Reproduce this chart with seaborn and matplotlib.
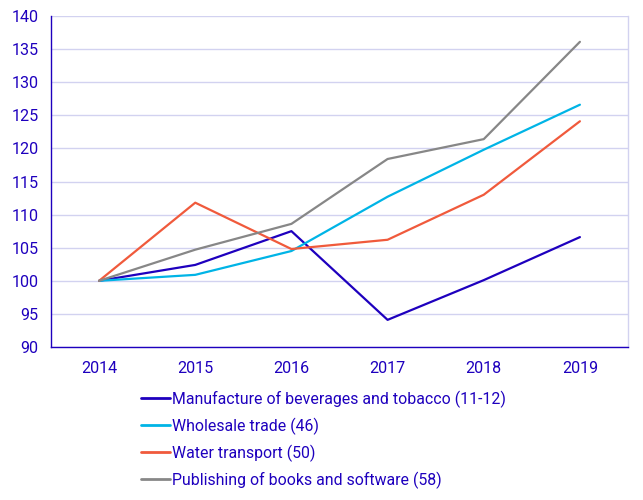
import matplotlib
matplotlib.use("Agg")
import matplotlib.pyplot as plt
import seaborn as sns
import pandas as pd
import numpy as np

years = ["2014", "2015", "2016", "2017", "2018", "2019"]
manufacture = [100.0, 102.4, 107.5, 94.1, 100.1, 106.6]
wholesale = [100.0, 100.9, 104.5, 112.7, 119.8, 126.6]
water = [100.0, 111.8, 104.8, 106.2, 113.0, 124.1]
publishing = [100.0, 104.7, 108.6, 118.4, 121.4, 136.1]
series_names = [
    "Manufacture of beverages and tobacco (11-12)",
    "Wholesale trade (46)",
    "Water transport (50)",
    "Publishing of books and software (58)",
]
colors = ["#1E00BE", "#00B4E6", "#F05A3C", "#878787"]
yticks = [90, 95, 100, 105, 110, 115, 120, 125, 130, 135, 140]

rows = []
for name, vals in zip(series_names, [manufacture, wholesale, water, publishing]):
    for y, v in zip(years, vals):
        rows.append({"year": y, "value": v, "series": name})
df = pd.DataFrame(rows)

sns.set_theme(style="white")
plt.rcParams["font.family"] = ["Roboto", "DejaVu Sans"]
text_color = "#1E00BE"
grid_color = "#D2D2F0"
fs = 11.6
lfs = 11.4

fig = plt.figure(figsize=(6.43, 5.0), dpi=100)
ax = fig.add_axes([51 / 643, 1 - 347 / 500, (628 - 51) / 643, (347 - 16) / 500])

sns.lineplot(data=df, x="year", y="value", hue="series", palette=colors,
             hue_order=series_names, linewidth=1.6, ax=ax, sort=False, legend=True)

ax.set_xlim(-0.5, 5.5)
ax.set_ylim(90, 140)
ax.set_yticks(yticks)
ax.set_yticklabels([str(t) for t in yticks])
ax.set_xticks(range(len(years)))
ax.set_xticklabels(years)
ax.set_xticks(np.arange(-0.5, 5.6, 1.0), minor=True)
ax.tick_params(axis="x", which="major", length=0, pad=10, labelsize=fs, labelcolor=text_color)
ax.tick_params(axis="x", which="minor", length=6, width=1, color=text_color, direction="out")
ax.tick_params(axis="y", which="major", length=6, width=1, color=text_color, direction="out",
               labelsize=fs, labelcolor=text_color, pad=3)
ax.yaxis.grid(True, color=grid_color, linewidth=1)
ax.set_axisbelow(True)
ax.set_xlabel("")
ax.set_ylabel("")
for s in ["left", "bottom"]:
    ax.spines[s].set_color(text_color)
    ax.spines[s].set_linewidth(1)
ax.spines["top"].set_visible(False)
ax.spines["right"].set_color(grid_color)
ax.spines["right"].set_linewidth(1)

handles, labels = ax.get_legend_handles_labels()
ax.get_legend().remove()
leg = fig.legend(handles, labels, loc="upper left", bbox_to_anchor=(135 / 643, 1 - 384 / 500),
                 frameon=False, fontsize=lfs, handlelength=1.8, handletextpad=0.12,
                 labelspacing=0.62, borderaxespad=0)
for t in leg.get_texts():
    t.set_color(text_color)
for h in leg.get_lines():
    h.set_linewidth(2)

fig.savefig("out.png", dpi=100)
